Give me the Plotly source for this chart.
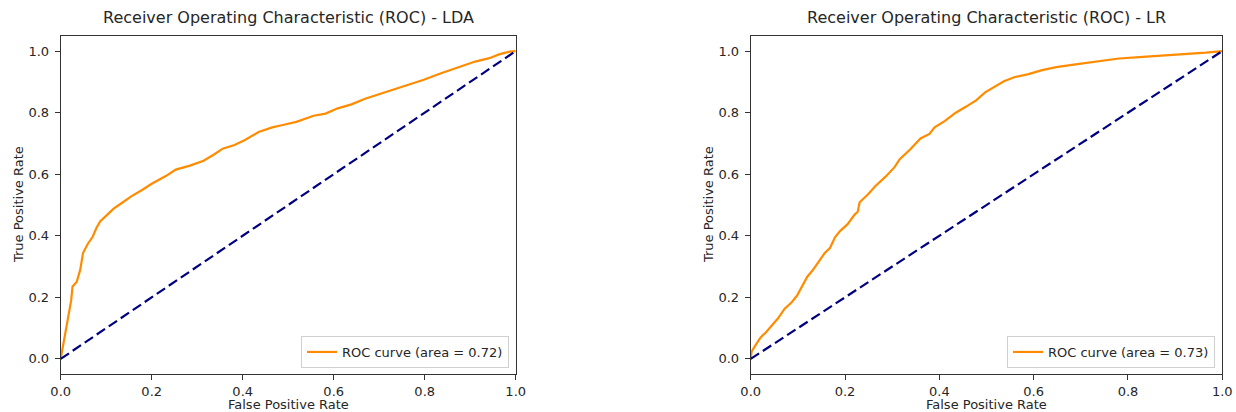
import plotly.graph_objects as go

# ---------------- data ----------------
lda_fpr = [0, 0.006, 0.015, 0.023, 0.026, 0.035, 0.043, 0.049, 0.06, 0.07, 0.079, 0.087,
           0.102, 0.117, 0.132, 0.155, 0.178, 0.2, 0.231, 0.253, 0.284, 0.314, 0.337,
           0.356, 0.382, 0.405, 0.435, 0.465, 0.488, 0.518, 0.556, 0.582, 0.609, 0.639,
           0.669, 0.7, 0.73, 0.76, 0.798, 0.836, 0.874, 0.911, 0.942, 0.965, 0.987, 1.0]
lda_tpr = [0, 0.05, 0.127, 0.19, 0.235, 0.25, 0.29, 0.344, 0.375, 0.396, 0.427, 0.447,
           0.468, 0.489, 0.504, 0.528, 0.548, 0.569, 0.594, 0.615, 0.628, 0.644, 0.664,
           0.683, 0.695, 0.711, 0.737, 0.752, 0.76, 0.77, 0.79, 0.797, 0.814, 0.827,
           0.845, 0.86, 0.876, 0.889, 0.907, 0.928, 0.948, 0.966, 0.977, 0.99, 0.998, 1.0]

lr_fpr = [0, 0.002, 0.01, 0.021, 0.032, 0.043, 0.058, 0.072, 0.087, 0.098, 0.109, 0.12,
          0.131, 0.142, 0.157, 0.168, 0.179, 0.19, 0.205, 0.22, 0.227, 0.231, 0.249,
          0.264, 0.286, 0.305, 0.316, 0.338, 0.36, 0.379, 0.39, 0.412, 0.434, 0.456,
          0.478, 0.497, 0.515, 0.537, 0.559, 0.589, 0.618, 0.648, 0.685, 0.722, 0.759,
          0.781, 0.832, 0.906, 0.965, 1.0]
lr_tpr = [0, 0.024, 0.044, 0.07, 0.086, 0.106, 0.132, 0.163, 0.184, 0.205, 0.236, 0.267,
          0.287, 0.313, 0.344, 0.36, 0.396, 0.416, 0.437, 0.468, 0.478, 0.509, 0.535,
          0.561, 0.592, 0.623, 0.649, 0.68, 0.716, 0.731, 0.752, 0.773, 0.799, 0.819,
          0.84, 0.866, 0.881, 0.902, 0.915, 0.925, 0.938, 0.948, 0.956, 0.964, 0.971,
          0.976, 0.981, 0.988, 0.995, 1.0]

diag = [0, 1]
titles = ["Receiver Operating Characteristic (ROC) - LDA",
          "Receiver Operating Characteristic (ROC) - LR"]
auc_labels = ["ROC curve (area = 0.72)", "ROC curve (area = 0.73)"]
tick_vals = [0, 0.2, 0.4, 0.6, 0.8, 1.0]

# ---------------- layout geometry ----------------
W, H = 1236, 412
FONT = "DejaVu Sans"
TXT = "#262626"
x_dom = [[60.7 / W, 515.7 / W], [750.7 / W, 1222.3 / W]]
y_dom = [1 - 374.3 / H, 1 - 35.7 / H]

fig = go.Figure()

curves = [(lda_fpr, lda_tpr), (lr_fpr, lr_tpr)]
for i, (fx, ty) in enumerate(curves):
    xa = "x" if i == 0 else "x2"
    ya = "y" if i == 0 else "y2"
    lg = "legend" if i == 0 else "legend2"
    fig.add_trace(go.Scatter(x=fx, y=ty, mode="lines", name=auc_labels[i],
                             line=dict(color="#ff8c00", width=2.2),
                             xaxis=xa, yaxis=ya, legend=lg, showlegend=True))
    fig.add_trace(go.Scatter(x=diag, y=diag, mode="lines",
                             line=dict(color="#000080", width=2.2, dash="10px,4.5px"),
                             xaxis=xa, yaxis=ya, showlegend=False))

axis_common = dict(showline=True, linecolor="#333333", linewidth=1, mirror=True,
                   ticks="outside", ticklen=5, tickcolor="#333333", tickwidth=1,
                   showgrid=False, zeroline=False, tickformat=".1f",
                   tickvals=tick_vals, automargin=False,
                   tickfont=dict(family=FONT, size=13, color=TXT))

legend_common = dict(xanchor="right", yanchor="bottom",
                     bordercolor="#d0d0d0", borderwidth=1,
                     bgcolor="rgba(255,255,255,0.8)",
                     font=dict(family=FONT, size=13, color=TXT), itemwidth=30,
                     tracegroupgap=0)

fig.update_layout(
    width=W, height=H,
    margin=dict(l=0, r=0, t=0, b=0, autoexpand=False),
    paper_bgcolor="white", plot_bgcolor="white",
    font=dict(family=FONT, color=TXT),
    xaxis=dict(domain=x_dom[0], range=[0, 1], anchor="y", ticklabelstandoff=0, **axis_common),
    yaxis=dict(domain=y_dom, range=[-0.05, 1.05], anchor="x", ticklabelstandoff=3, **axis_common),
    xaxis2=dict(domain=x_dom[1], range=[0, 1], anchor="y2", ticklabelstandoff=0, **axis_common),
    yaxis2=dict(domain=y_dom, range=[-0.05, 1.05], anchor="x2", ticklabelstandoff=3, **axis_common),
    legend=dict(x=509 / W, y=1 - 368 / H, **legend_common),
    legend2=dict(x=1215 / W, y=1 - 368 / H, **legend_common),
)

annotations = []
for i in range(2):
    cx = (x_dom[i][0] + x_dom[i][1]) / 2
    annotations.append(dict(text=titles[i], x=cx, y=1 - 18 / H, xref="paper", yref="paper",
                            showarrow=False, xanchor="center", yanchor="middle",
                            font=dict(family=FONT, size=16, color=TXT)))
    annotations.append(dict(text="False Positive Rate", x=cx, y=1 - 404 / H,
                            xref="paper", yref="paper", showarrow=False,
                            xanchor="center", yanchor="middle",
                            font=dict(family=FONT, size=13, color=TXT)))
    ylab_x = (18 if i == 0 else 708) / W
    annotations.append(dict(text="True Positive Rate", x=ylab_x, y=(y_dom[0] + y_dom[1]) / 2,
                            xref="paper", yref="paper", showarrow=False, textangle=-90,
                            xanchor="center", yanchor="middle",
                            font=dict(family=FONT, size=13, color=TXT)))
fig.update_layout(annotations=annotations)

fig.write_html("out.html")
